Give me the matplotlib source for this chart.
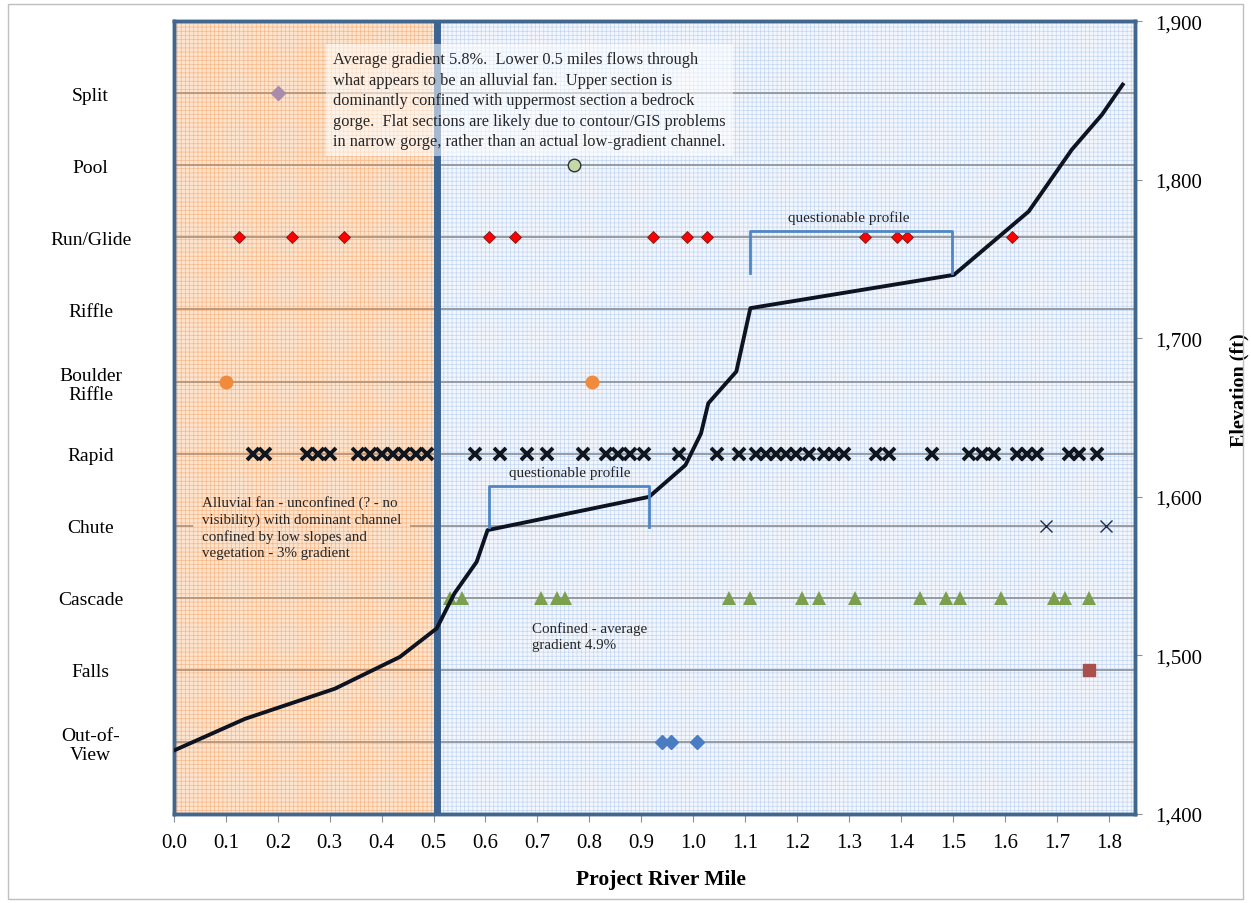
import matplotlib.pyplot as plt
import matplotlib.patches as mpatches
import numpy as np

plt.rcParams['font.family'] = ['Liberation Serif', 'DejaVu Serif']
plt.rcParams['hatch.linewidth'] = 0.5

# habitat categories (bottom to top on the left axis)
categories = ['Out-of-\nView', 'Falls', 'Cascade', 'Chute', 'Rapid',
              'Boulder\nRiffle', 'Riffle', 'Run/Glide', 'Pool', 'Split']

# river mile of each habitat observation
split_rm = [0.20]
pool_rm = [0.77]
run_glide_rm = [0.125, 0.227, 0.327, 0.606, 0.656, 0.923, 0.988, 1.027,
                1.331, 1.392, 1.412, 1.613]
boulder_rm = [0.10, 0.806]
rapid_rm = [0.152, 0.175, 0.256, 0.277, 0.300, 0.354, 0.377, 0.400, 0.421,
            0.444, 0.467, 0.488, 0.579, 0.627, 0.679, 0.719, 0.787, 0.833,
            0.856, 0.879, 0.906, 0.973, 1.046, 1.088, 1.121, 1.140, 1.160,
            1.179, 1.198, 1.223, 1.252, 1.271, 1.290, 1.352, 1.377, 1.460,
            1.531, 1.556, 1.579, 1.623, 1.642, 1.662, 1.723, 1.742, 1.777]
chute_rm = [1.679, 1.794]
cascade_rm = [0.531, 0.554, 0.706, 0.737, 0.754, 1.069, 1.110, 1.210, 1.242,
              1.312, 1.437, 1.487, 1.513, 1.592, 1.694, 1.715, 1.763]
falls_rm = [1.762]
oov_rm = [0.940, 0.958, 1.008]

# longitudinal profile
profile_rm = [0.0, 0.137, 0.31, 0.435, 0.506, 0.54, 0.583, 0.604, 0.915,
              0.985, 1.015, 1.029, 1.083, 1.11, 1.502, 1.646, 1.729, 1.787, 1.827]
profile_elev = [1440, 1460, 1479, 1499, 1517, 1539, 1559, 1579, 1600,
                1620, 1640, 1659, 1679, 1719, 1740, 1780, 1819, 1841, 1860]

xticks = np.round(np.arange(0, 1.81, 0.1), 1)
fan_end = 0.506
xmax = 1.85

fig = plt.figure(figsize=(12.51, 9.04), dpi=100)
ax = fig.add_axes([0.139, 0.0985, 0.768, 0.877])
ax2 = ax.twinx()

# background zones
fan_face, fan_hatch = '#fde4cf', '#f7b886'
ax.axvspan(0, fan_end, facecolor=fan_face, edgecolor=fan_hatch, hatch='++++', lw=0, zorder=0)
ax.axvspan(fan_end, xmax, facecolor='#f3f7fd', edgecolor='#c3d6f1', hatch='++++', lw=0, zorder=0)

for i in range(1, 11):
    ax.plot([0, fan_end], [i, i], color='#b59478', lw=1.3, zorder=1)
    ax.plot([fan_end, xmax], [i, i], color='#8f959c', lw=1.3, zorder=1)
ax.axvline(fan_end, color='#3d6594', lw=5, zorder=3)

def row(vals, idx):
    return np.full(len(vals), idx + 1)

ax.plot(split_rm, row(split_rm, 9), 'D', ms=7, color='#a98bab', zorder=5)
ax.plot(pool_rm, row(pool_rm, 8), 'o', ms=9, mfc='#c3d9a9', mec='#333333', zorder=5)
ax.plot(run_glide_rm, row(run_glide_rm, 7), 'D', ms=6.5, mfc='#ff0000', mec='#7a1a1a', mew=0.6, zorder=5)
ax.plot(boulder_rm, row(boulder_rm, 5), 'o', ms=9, color='#f08a3c', zorder=5)
ax.plot(rapid_rm, row(rapid_rm, 4), 'x', ms=9, mew=2.8, color='#10161f', zorder=5)
ax.plot(chute_rm, row(chute_rm, 3), 'x', ms=9, mew=1, color='#1f2d4d', zorder=5)
ax.plot(cascade_rm, row(cascade_rm, 2), '^', ms=10, color='#7c9f4e', mew=0, zorder=5)
ax.plot(falls_rm, row(falls_rm, 1), 's', ms=9, color='#a9504e', zorder=5)
ax.plot(oov_rm, row(oov_rm, 0), 'D', ms=7, color='#4a7cc1', zorder=5)

ax.set_xlim(0, xmax)
ax.set_ylim(0, 11)
ax.set_yticks(range(1, 11))
ax.set_yticklabels(categories, fontsize=14, ha='center', multialignment='center')
ax.tick_params(axis='y', length=0, pad=60)
ax.set_xticks(xticks)
ax.set_xticklabels([f'{t:.1f}' for t in xticks], fontsize=15)
ax.tick_params(axis='x', direction='out', length=6, color='#8f8f8f', pad=8)
ax.set_xlabel('Project River Mile', fontsize=15.5, fontweight='bold')
ax.xaxis.set_label_coords(0.507, -0.07)

# elevation profile
ax2.plot(profile_rm, profile_elev, color='#0d1320', lw=2.8, zorder=6)
ax2.set_ylim(1400, 1900)
ax2.set_yticks(range(1400, 1901, 100))
ax2.set_yticklabels([f'{v:,}' for v in range(1400, 1901, 100)], fontsize=15)
ax2.tick_params(axis='y', direction='out', length=5, color='#8f8f8f', pad=10)
ax2.set_ylabel('Elevation (ft)', fontsize=14.5, fontweight='bold')
ax2.yaxis.set_label_coords(1.099, 0.536)

for a in (ax, ax2):
    for s in a.spines.values():
        s.set_color('#41678f')
        s.set_linewidth(2.5)

# "questionable profile" brackets
br_col = '#4f86c6'
ax2.plot([0.606, 0.606, 0.915, 0.915], [1581, 1607, 1607, 1581], color=br_col, lw=2, zorder=7)
ax2.plot([1.110, 1.110, 1.498, 1.498], [1741, 1767.5, 1767.5, 1741], color=br_col, lw=2, zorder=7)
ax2.text(0.762, 1611, 'questionable profile', fontsize=11, ha='center', va='bottom', color='#262626', zorder=7)
ax2.text(1.30, 1772, 'questionable profile', fontsize=11, ha='center', va='bottom', color='#262626', zorder=7)

ax.text(0.1655, 0.962,
        'Average gradient 5.8%.  Lower 0.5 miles flows through\n'
        'what appears to be an alluvial fan.  Upper section is\n'
        'dominantly confined with uppermost section a bedrock\n'
        'gorge.  Flat sections are likely due to contour/GIS problems\n'
        'in narrow gorge, rather than an actual low-gradient channel.',
        transform=ax.transAxes, fontsize=11.8, va='top', ha='left', linespacing=1.37,
        color='#262626', zorder=8,
        bbox=dict(boxstyle='square,pad=0.45', facecolor='white', alpha=0.55, edgecolor='none'))

ax.text(0.029, 0.402,
        'Alluvial fan - unconfined (? - no\nvisibility) with dominant channel\n'
        'confined by low slopes and\nvegetation - 3% gradient',
        transform=ax.transAxes, fontsize=10.8, va='top', ha='left', linespacing=1.3,
        color='#262626', zorder=8,
        bbox=dict(boxstyle='square,pad=0.6', facecolor=fan_face, edgecolor=fan_hatch,
                  hatch='++++', lw=0))

ax.text(0.373, 0.243, 'Confined - average\ngradient 4.9%',
        transform=ax.transAxes, fontsize=10.8, va='top', ha='left', linespacing=1.3,
        color='#262626', zorder=8)

fig.patches.append(mpatches.Rectangle((0.006, 0.004), 0.988, 0.99, transform=fig.transFigure,
                                      fill=False, edgecolor='#bfbfbf', lw=1))

fig.savefig('out.png', dpi=100)
